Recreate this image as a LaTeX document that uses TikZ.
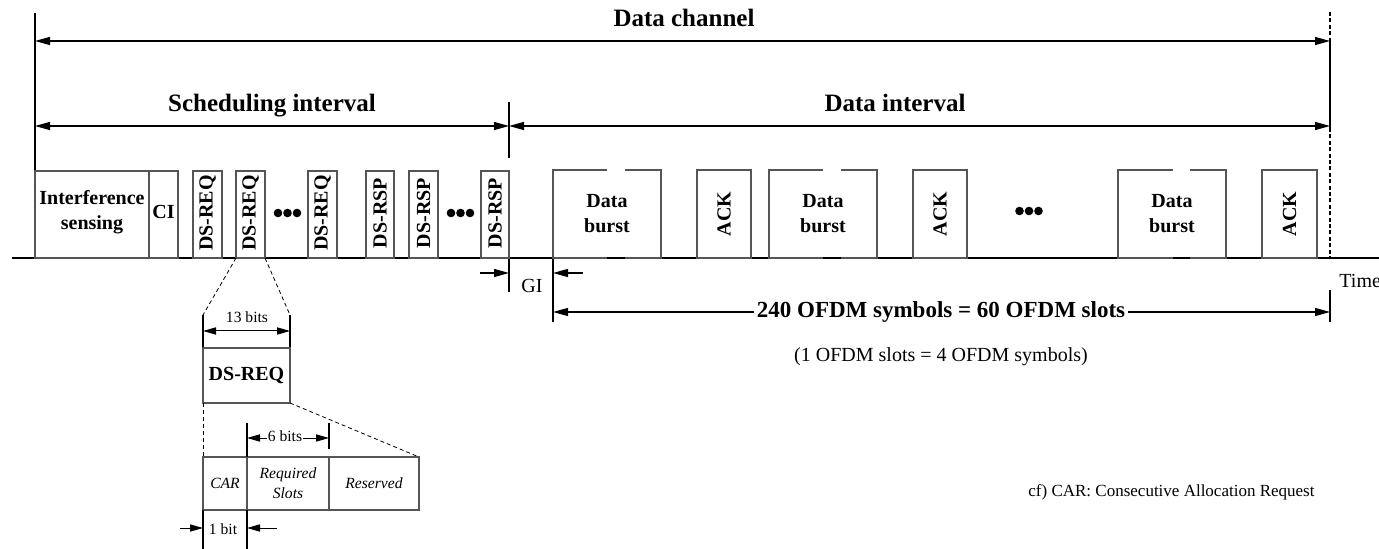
\documentclass[tikz,border=0pt]{standalone}
\usepackage{fontspec}
\setmainfont{Liberation Serif}
\usetikzlibrary{arrows.meta}

\tikzset{
  thinline/.style={line width=0.6pt},
  slotline/.style={draw={rgb,255:red,85;green,85;blue,85},line width=0.6pt},
  dim/.style={line width=0.6pt,arrows={Triangle[length=7.5pt,width=4pt]-Triangle[length=7.5pt,width=4pt]}},
  tip/.style={line width=0.6pt,arrows={-Triangle[length=7.5pt,width=4pt]}},
  smalldim/.style={line width=0.5pt,arrows={Triangle[length=6.5pt,width=3.6pt]-Triangle[length=6.5pt,width=3.6pt]}},
  smalltip/.style={line width=0.5pt,arrows={-Triangle[length=6.5pt,width=3.6pt]}},
  zoomdash/.style={line width=0.4pt,dash pattern=on 2pt off 1.5pt},
  bigtitle/.style={font=\bfseries\fontsize{12.5}{15}\selectfont,inner sep=0pt},
  boxlabel/.style={font=\bfseries\fontsize{10}{12.5}\selectfont,align=center,inner sep=0pt},
  vlabel/.style={boxlabel,rotate=90},
  plain/.style={font=\fontsize{10}{12}\selectfont,inner sep=0pt},
  small/.style={font=\fontsize{7.8}{10}\selectfont,align=center,inner sep=0pt},
  field/.style={font=\itshape\fontsize{7.8}{10}\selectfont,align=center,inner sep=0pt}
}

\begin{document}
\begin{tikzpicture}[x=0.5pt,y=0.5pt,yscale=-1]
\useasboundingbox (0,0) rectangle (1379,549);

%Straight Lines: time axis
\draw [line width=0.8pt] (12,258) -- (1379,258);
\node (time) [plain,anchor=west] at (1339,281) {Time};

%Straight Lines: limits
\draw [thinline] (35,13) -- (35,171);
\draw [thinline,dash pattern=on 2pt off 1.2pt] (1330,12) -- (1330,41);
\draw [thinline] (1330,41) -- (1330,128);
\draw [thinline,dash pattern=on 2pt off 1.2pt] (1330,128) -- (1330,258);
\draw [thinline] (1330,290) -- (1330,322);
\draw [thinline] (509,102) -- (509,158);
\draw [thinline] (509,258) -- (509,292);
\draw [thinline] (553,258) -- (553,322);

\coordinate (chL) at (35,41);
\coordinate (chR) at (1330,41);
\coordinate (schL) at (35,126);
\coordinate (schR) at (509,126);
\coordinate (datR) at (1330,126);
\coordinate (ofdmL) at (553,312);
\coordinate (ofdmR) at (1330,312);

\draw [dim] (chL) -- (chR);
\draw [dim] (schL) -- (schR);
\draw [dim] (schR) -- (datR);
\draw [dim] (ofdmL) -- (ofdmR);

% Text Node
\node (chan) [bigtitle,anchor=base] at (684,27) {Data channel};
\node (sched) [bigtitle,anchor=base] at (272,112) {Scheduling interval};
\node (dint) [bigtitle,anchor=base] at (895,112) {Data interval};
\node (ofdm) [font=\bfseries\fontsize{11.5}{14}\selectfont,fill=white,inner sep=1.5pt] at (941,312) {240 OFDM symbols = 60 OFDM slots};
\node (slots) [plain] at (941,357) {(1 OFDM slots = 4 OFDM symbols)};
\node (cf) [small,font=\fontsize{8.5}{10}\selectfont,anchor=west] at (1028,492) {cf) CAR: Consecutive Allocation Request};

%Shape: scheduling slots
\draw [slotline] (35,171) rectangle (149,258);
\draw [slotline] (149,171) rectangle (178,258);
\draw [slotline] (193,171) rectangle (222,258);
\draw [slotline] (236,171) rectangle (265,258);
\draw [slotline] (308,171) rectangle (337,258);
\draw [slotline] (366,171) rectangle (394,258);
\draw [slotline] (409,171) rectangle (438,258);
\draw [slotline] (481,171) rectangle (509,258);

\node (isense) [boxlabel] at (92,212) {Interference\\sensing};
\node (ci) [boxlabel] at (163.5,212) {CI};
\node (req1) [vlabel] at (207.5,213) {DS-REQ};
\node (req2) [vlabel] at (250.5,213) {DS-REQ};
\node (req3) [vlabel] at (322.5,213) {DS-REQ};
\node (rsp1) [vlabel] at (380,213) {DS-RSP};
\node (rsp2) [vlabel] at (423.5,213) {DS-RSP};
\node (rsp3) [vlabel] at (495,213) {DS-RSP};

%Shape: dots
\fill (278,213) circle (4.3) (287.5,213) circle (4.3) (297,213) circle (4.3);
\fill (451,213) circle (4.3) (460.5,213) circle (4.3) (470,213) circle (4.3);
\fill (1019.5,211) circle (4.3) (1029,211) circle (4.3) (1038.5,211) circle (4.3);

%Shape: data bursts (open at the top)
\draw [slotline] (607,170) -- (553,170) -- (553,258) -- (607,258);
\draw [slotline] (625,170) -- (661,170) -- (661,258) -- (625,258);
\draw [slotline] (823,170) -- (769,170) -- (769,258) -- (823,258);
\draw [slotline] (841,170) -- (877,170) -- (877,258) -- (841,258);
\draw [slotline] (1173,170) -- (1118,170) -- (1118,258) -- (1173,258);
\draw [slotline] (1190,170) -- (1226,170) -- (1226,258) -- (1190,258);
%Shape: acks
\draw [slotline] (697,170) rectangle (751,258);
\draw [slotline] (913,170) rectangle (967,258);
\draw [slotline] (1262,170) rectangle (1317,258);

\node (burst1) [boxlabel] at (607,214) {Data\\burst};
\node (burst2) [boxlabel] at (823,214) {Data\\burst};
\node (burst3) [boxlabel] at (1172,214) {Data\\burst};
\node (ack1) [vlabel] at (724,214) {ACK};
\node (ack2) [vlabel] at (940,214) {ACK};
\node (ack3) [vlabel] at (1289.5,214) {ACK};

%Straight Lines: guard interval
\coordinate (giL) at (509,273);
\coordinate (giR) at (553,273);
\coordinate (giLs) at (480,273);
\coordinate (giRs) at (583,273);
\draw [tip] (giLs) -- (giL);
\draw [tip] (giRs) -- (giR);
\node (gi) [plain] at (532,286) {GI};

%Shape: DS-REQ detail
\draw [zoomdash] (236,258) -- (203,315);
\draw [zoomdash] (265,258) -- (290,315);
\draw [thinline] (203,315) -- (203,348);
\draw [thinline] (290,315) -- (290,348);
\coordinate (bitsL) at (203,331);
\coordinate (bitsR) at (290,331);
\draw [smalldim] (bitsL) -- (bitsR);
\node (bits13) [small] at (247,317) {13 bits};
\draw [slotline] (203,348) rectangle (290,403);
\node (req) [boxlabel] at (246.5,376) {DS-REQ};

\draw [zoomdash] (203,403) -- (203,457);
\draw [zoomdash] (290,403) -- (419,457);
\draw [slotline] (203,457) rectangle (247,510);
\draw [slotline] (247,457) rectangle (329,510);
\draw [slotline] (329,457) rectangle (419,510);
\node (car) [field] at (225,483) {CAR};
\node (reqslots) [field] at (288,483) {Required\\Slots};
\node (resv) [field] at (374,483) {Reserved};

\draw [thinline] (247,423) -- (247,457);
\draw [thinline] (329,423) -- (329,449);
\coordinate (sixL) at (247,438);
\coordinate (sixR) at (329,438);
\draw [smalldim] (sixL) -- (sixR);
\node (bits6) [small,fill=white,inner sep=0.3pt] at (285,436) {6 bits};

\draw [thinline] (203,510) -- (203,549);
\draw [thinline] (247,510) -- (247,549);
\coordinate (oneL) at (203,528);
\coordinate (oneR) at (247,528);
\coordinate (oneLs) at (180,528);
\coordinate (oneRs) at (277,528);
\draw [smalltip] (oneLs) -- (oneL);
\draw [smalltip] (oneRs) -- (oneR);
\node (bit1) [small] at (223,529) {1 bit};

\end{tikzpicture}
\end{document}
